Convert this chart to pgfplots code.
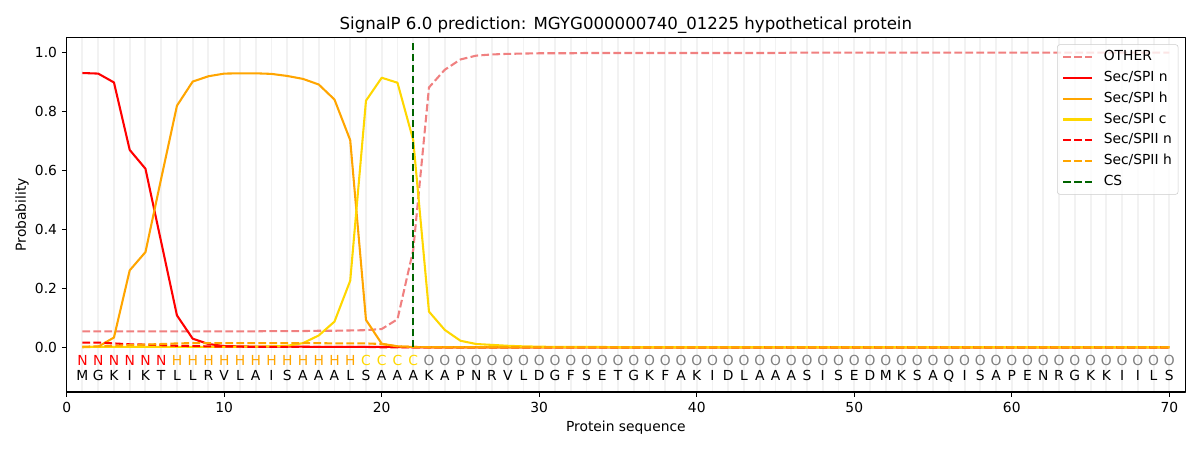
\documentclass[border=0pt]{standalone}
\usepackage{fontspec}
\setmainfont{DejaVu Sans}
\usepackage{pgfplots}
\usepackage{pgfplotstable}
\pgfplotsset{compat=1.18}
\definecolor{lightcoral}{RGB}{240,128,128}
\definecolor{mporange}{RGB}{255,165,0}
\definecolor{mpgold}{RGB}{255,215,0}
\definecolor{mpdarkgreen}{RGB}{0,100,0}
\definecolor{mpgray}{RGB}{128,128,128}

\pgfplotstableread{
x other spin spih spic spiin spiih
1 0.054 0.931 0.000 0.001 0.016 0.002
2 0.054 0.929 0.002 0.001 0.016 0.003
3 0.054 0.899 0.033 0.001 0.013 0.005
4 0.054 0.670 0.261 0.001 0.010 0.007
5 0.054 0.606 0.323 0.001 0.009 0.009
6 0.054 0.357 0.573 0.001 0.007 0.011
7 0.054 0.108 0.820 0.001 0.005 0.013
8 0.054 0.029 0.902 0.001 0.004 0.014
9 0.054 0.011 0.920 0.001 0.003 0.014
10 0.054 0.004 0.929 0.001 0.002 0.014
11 0.054 0.003 0.930 0.002 0.002 0.014
12 0.054 0.002 0.930 0.002 0.001 0.014
13 0.055 0.002 0.928 0.003 0.001 0.014
14 0.055 0.002 0.921 0.005 0.001 0.014
15 0.055 0.002 0.911 0.014 0.001 0.014
16 0.056 0.001 0.892 0.040 0.001 0.014
17 0.056 0.001 0.841 0.087 0.001 0.013
18 0.057 0.001 0.703 0.226 0.001 0.013
19 0.058 0.001 0.093 0.837 0.001 0.013
20 0.062 0.001 0.012 0.915 0.000 0.011
21 0.095 0.001 0.003 0.898 0.000 0.003
22 0.330 0.000 0.001 0.703 0.000 0.001
23 0.882 0.000 0.000 0.121 0.000 0.000
24 0.942 0.000 0.000 0.059 0.000 0.000
25 0.977 0.000 0.000 0.022 0.000 0.000
26 0.990 0.000 0.000 0.011 0.000 0.000
27 0.994 0.000 0.000 0.008 0.000 0.000
28 0.996 0.000 0.000 0.005 0.000 0.000
29 0.997 0.000 0.000 0.003 0.000 0.000
30 0.998 0.000 0.000 0.002 0.000 0.000
31 0.998 0.000 0.000 0.001 0.000 0.000
32 0.998 0.000 0.000 0.001 0.000 0.000
33 0.999 0.000 0.000 0.001 0.000 0.000
34 0.999 0.000 0.000 0.001 0.000 0.000
35 0.999 0.000 0.000 0.000 0.000 0.000
36 0.999 0.000 0.000 0.000 0.000 0.000
37 0.999 0.000 0.000 0.000 0.000 0.000
38 0.999 0.000 0.000 0.000 0.000 0.000
39 0.999 0.000 0.000 0.000 0.000 0.000
40 0.999 0.000 0.000 0.000 0.000 0.000
41 0.999 0.000 0.000 0.000 0.000 0.000
42 0.999 0.000 0.000 0.000 0.000 0.000
43 0.999 0.000 0.000 0.000 0.000 0.000
44 0.999 0.000 0.000 0.000 0.000 0.000
45 0.999 0.000 0.000 0.000 0.000 0.000
46 1.000 0.000 0.000 0.000 0.000 0.000
47 1.000 0.000 0.000 0.000 0.000 0.000
48 1.000 0.000 0.000 0.000 0.000 0.000
49 1.000 0.000 0.000 0.000 0.000 0.000
50 1.000 0.000 0.000 0.000 0.000 0.000
51 1.000 0.000 0.000 0.000 0.000 0.000
52 1.000 0.000 0.000 0.000 0.000 0.000
53 1.000 0.000 0.000 0.000 0.000 0.000
54 1.000 0.000 0.000 0.000 0.000 0.000
55 1.000 0.000 0.000 0.000 0.000 0.000
56 1.000 0.000 0.000 0.000 0.000 0.000
57 1.000 0.000 0.000 0.000 0.000 0.000
58 1.000 0.000 0.000 0.000 0.000 0.000
59 1.000 0.000 0.000 0.000 0.000 0.000
60 1.000 0.000 0.000 0.000 0.000 0.000
61 1.000 0.000 0.000 0.000 0.000 0.000
62 1.000 0.000 0.000 0.000 0.000 0.000
63 1.000 0.000 0.000 0.000 0.000 0.000
64 1.000 0.000 0.000 0.000 0.000 0.000
65 1.000 0.000 0.000 0.000 0.000 0.000
66 1.000 0.000 0.000 0.000 0.000 0.000
67 1.000 0.000 0.000 0.000 0.000 0.000
68 1.000 0.000 0.000 0.000 0.000 0.000
69 1.000 0.000 0.000 0.000 0.000 0.000
70 1.000 0.000 0.000 0.000 0.000 0.000
}\probs

\pgfplotstableread{
x y t
1 -0.0635 N
2 -0.0635 N
3 -0.0635 N
4 -0.0635 N
5 -0.0635 N
6 -0.0635 N
}\labN

\pgfplotstableread{
x y t
7 -0.0635 H
8 -0.0635 H
9 -0.0635 H
10 -0.0635 H
11 -0.0635 H
12 -0.0635 H
13 -0.0635 H
14 -0.0635 H
15 -0.0635 H
16 -0.0635 H
17 -0.0635 H
18 -0.0635 H
}\labH

\pgfplotstableread{
x y t
19 -0.0635 C
20 -0.0635 C
21 -0.0635 C
22 -0.0635 C
}\labC

\pgfplotstableread{
x y t
23 -0.0635 O
24 -0.0635 O
25 -0.0635 O
26 -0.0635 O
27 -0.0635 O
28 -0.0635 O
29 -0.0635 O
30 -0.0635 O
31 -0.0635 O
32 -0.0635 O
33 -0.0635 O
34 -0.0635 O
35 -0.0635 O
36 -0.0635 O
37 -0.0635 O
38 -0.0635 O
39 -0.0635 O
40 -0.0635 O
41 -0.0635 O
42 -0.0635 O
43 -0.0635 O
44 -0.0635 O
45 -0.0635 O
46 -0.0635 O
47 -0.0635 O
48 -0.0635 O
49 -0.0635 O
50 -0.0635 O
51 -0.0635 O
52 -0.0635 O
53 -0.0635 O
54 -0.0635 O
55 -0.0635 O
56 -0.0635 O
57 -0.0635 O
58 -0.0635 O
59 -0.0635 O
60 -0.0635 O
61 -0.0635 O
62 -0.0635 O
63 -0.0635 O
64 -0.0635 O
65 -0.0635 O
66 -0.0635 O
67 -0.0635 O
68 -0.0635 O
69 -0.0635 O
70 -0.0635 O
}\labO

\pgfplotstableread{
x y t
1 -0.114 M
2 -0.114 G
3 -0.114 K
4 -0.114 I
5 -0.114 K
6 -0.114 T
7 -0.114 L
8 -0.114 L
9 -0.114 R
10 -0.114 V
11 -0.114 L
12 -0.114 A
13 -0.114 I
14 -0.114 S
15 -0.114 A
16 -0.114 A
17 -0.114 A
18 -0.114 L
19 -0.114 S
20 -0.114 A
21 -0.114 A
22 -0.114 A
23 -0.114 K
24 -0.114 A
25 -0.114 P
26 -0.114 N
27 -0.114 R
28 -0.114 V
29 -0.114 L
30 -0.114 D
31 -0.114 G
32 -0.114 F
33 -0.114 S
34 -0.114 E
35 -0.114 T
36 -0.114 G
37 -0.114 K
38 -0.114 F
39 -0.114 A
40 -0.114 K
41 -0.114 I
42 -0.114 D
43 -0.114 L
44 -0.114 A
45 -0.114 A
46 -0.114 A
47 -0.114 S
48 -0.114 I
49 -0.114 S
50 -0.114 E
51 -0.114 D
52 -0.114 M
53 -0.114 K
54 -0.114 S
55 -0.114 A
56 -0.114 Q
57 -0.114 I
58 -0.114 S
59 -0.114 A
60 -0.114 P
61 -0.114 E
62 -0.114 N
63 -0.114 R
64 -0.114 G
65 -0.114 K
66 -0.114 K
67 -0.114 I
68 -0.114 I
69 -0.114 L
70 -0.114 S
}\aas

\pgfplotstableread{
x y
22 0
22 1.037
}\csline

\begin{document}
\begin{tikzpicture}
\begin{axis}[
  scale only axis,
  width=808.2pt, height=256.3pt,
  at={(0,0)}, anchor=south west,
  xmin=0, xmax=71, ymin=-0.152, ymax=1.052,
  axis line style={line width=0.8pt},
  tick align=outside,
  major tick length=3.5pt,
  every tick/.style={black, line width=0.8pt},
  xtick={0,10,...,70},
  ytick={0,0.2,0.4,0.6,0.8,1.0},
  minor xtick={1,...,70},
  minor tick length=0pt,
  xminorgrids=true,
  minor grid style={black!5, line width=1.4pt},
  xtick pos=bottom, ytick pos=left,
  /pgf/number format/assume math mode=true,
  yticklabel style={/pgf/number format/fixed, /pgf/number format/fixed zerofill, /pgf/number format/precision=1},
  ticklabel style={font=\fontsize{10}{12}\selectfont},
  every axis title shift=0pt,
  title={SignalP 6.0 prediction: MGYG000000740\_01225 hypothetical protein},
  title style={at={(axis description cs:0.5,1.0234)}, anchor=base, yshift=0pt, font=\fontsize{12}{14.4}\selectfont, inner sep=0pt},
  xlabel={Protein sequence},
  xlabel style={at={(axis description cs:0.5,-0.110)}, anchor=base, inner sep=0pt, font=\fontsize{10}{12}\selectfont},
  ylabel={Probability},
  ylabel style={at={(axis description cs:-0.0364,0.5)}, anchor=base, inner sep=0pt, font=\fontsize{10}{12}\selectfont},
  legend cell align=left,
  legend image code/.code={\draw[#1] (0pt,0pt) -- (21pt,0pt); \path[draw=none, fill=none] (0pt,0pt) -- (28.2pt,0pt);},
  legend style={at={(axis description cs:0.99406,0.98049)}, anchor=north east,
    draw=black!20, rounded corners=2pt, fill=white, fill opacity=0.8, text opacity=1,
    font=\fontsize{10}{12}\selectfont, row sep=3.4pt, inner xsep=3.6pt, inner ysep=3pt,
    nodes={inner sep=1pt, text height=7.4pt, text depth=2.3pt}},
  line join=round,
]
\addplot[lightcoral, line width=1.5pt, dash pattern=on 5.55pt off 2.4pt] table[x=x, y=other] {\probs};
\addlegendentry{OTHER}
\addplot[red, line width=1.5pt] table[x=x, y=spin] {\probs};
\addlegendentry{Sec/SPI n}
\addplot[mporange, line width=1.5pt] table[x=x, y=spih] {\probs};
\addlegendentry{Sec/SPI h}
\addplot[mpgold, line width=1.5pt] table[x=x, y=spic] {\probs};
\addlegendentry{Sec/SPI c}
\addplot[red, line width=1.5pt, dash pattern=on 5.55pt off 2.4pt] table[x=x, y=spiin] {\probs};
\addlegendentry{Sec/SPII n}
\addplot[mporange, line width=1.5pt, dash pattern=on 5.55pt off 2.4pt] table[x=x, y=spiih] {\probs};
\addlegendentry{Sec/SPII h}
\addplot[mpdarkgreen, line width=1.5pt, dash pattern=on 5.55pt off 2.4pt] table[x=x, y=y] {\csline};
\addlegendentry{CS}

\addplot[draw=none, forget plot, nodes near coords, point meta=explicit symbolic,
  every node near coord/.append style={anchor=base, inner sep=0pt, text=red, font=\fontsize{10}{12}\selectfont}]
  table[x=x, y=y, meta=t] {\labN};
\addplot[draw=none, forget plot, nodes near coords, point meta=explicit symbolic,
  every node near coord/.append style={anchor=base, inner sep=0pt, text=mporange, font=\fontsize{10}{12}\selectfont}]
  table[x=x, y=y, meta=t] {\labH};
\addplot[draw=none, forget plot, nodes near coords, point meta=explicit symbolic,
  every node near coord/.append style={anchor=base, inner sep=0pt, text=mpgold, font=\fontsize{10}{12}\selectfont}]
  table[x=x, y=y, meta=t] {\labC};
\addplot[draw=none, forget plot, nodes near coords, point meta=explicit symbolic,
  every node near coord/.append style={anchor=base, inner sep=0pt, text=mpgray, font=\fontsize{10}{12}\selectfont}]
  table[x=x, y=y, meta=t] {\labO};
\addplot[draw=none, forget plot, nodes near coords, point meta=explicit symbolic,
  every node near coord/.append style={anchor=base, inner sep=0pt, text=black, font=\fontsize{10}{12}\selectfont}]
  table[x=x, y=y, meta=t] {\aas};
\end{axis}
\pgfresetboundingbox
\path[use as bounding box] (-48.2pt,-41.9pt) rectangle (819.0pt,283.3pt);
\end{tikzpicture}
\end{document}
